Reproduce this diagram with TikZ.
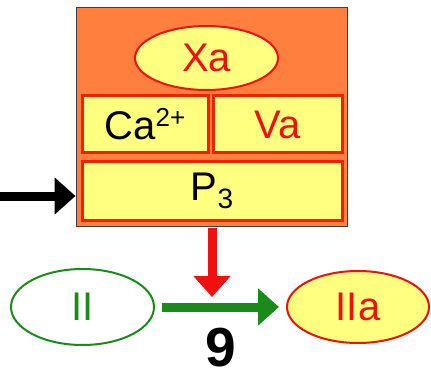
\documentclass[tikz,border=0pt]{standalone}
\usepackage{fontspec}
\setmainfont{Liberation Sans}
\usetikzlibrary{arrows.meta,shapes.geometric}
\definecolor{orng}{HTML}{FF7F3F}
\definecolor{yel}{HTML}{FFFF80}
\definecolor{rd}{HTML}{F01010}
\definecolor{boxred}{HTML}{F02000}
\definecolor{grn}{HTML}{1A8A1A}
\begin{document}
\begin{tikzpicture}[x=1pt,y=-1pt,
  big/.style={font=\fontsize{40}{40}\selectfont},
  outerbox/.style={draw=black!75, line width=1pt, fill=orng, minimum width=271pt, minimum height=218pt, inner sep=0pt},
  cell/.style={draw=boxred, line width=3pt, fill=yel, minimum height=57pt, inner sep=0pt, big},
  oval/.style={ellipse, line width=2pt, minimum width=143pt, minimum height=70pt, inner sep=0pt, big},
  thickarrow/.style={line width=9pt, -{Triangle[length=21pt,width=36pt]}}
]
\useasboundingbox (0,0) rectangle (431,377);
\node[outerbox] (outer) at (211.5,117) {};
\node[oval, draw=rd, fill=yel, text=rd, minimum height=64pt] (xa) at (206.5,58) {Xa};
\node[cell, minimum width=126pt] (ca) at (145,124.5) {Ca\raisebox{13pt}{\fontsize{26}{26}\selectfont 2+}};
\node[cell, minimum width=129pt, text=rd] (va) at (277.5,124.5) {Va};
\node[cell, minimum width=260pt, minimum height=59pt] (p3) at (212,191) {P\raisebox{-8pt}{\fontsize{28}{28}\selectfont 3}};
\node[oval, draw=grn, fill=white, text=grn, minimum height=76pt] (ii) at (82.5,307) {II};
\node[oval, draw=rd, fill=yel, text=rd, minimum width=142pt, minimum height=72pt] (iia) at (358,307) {IIa};
\coordinate (src) at (0,196);
\coordinate (redtop) at (212,228);
\coordinate (redtip) at (212,297);
\draw[thickarrow, black] (src) -- (src -| outer.west);
\draw[thickarrow, rd] (redtop) -- (redtip);
\draw[thickarrow, grn, shorten <=7pt, shorten >=7pt] (ii.east) -- node[below=17pt, inner sep=0pt, text=black, font=\bfseries\fontsize{55}{55}\selectfont] (nine) {9} (iia.west);
\end{tikzpicture}
\end{document}
